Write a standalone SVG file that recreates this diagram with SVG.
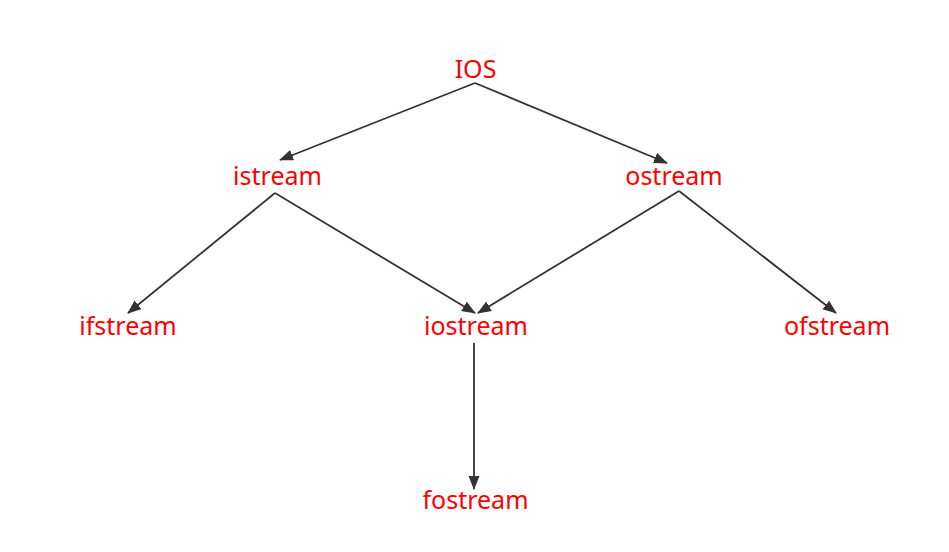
<svg xmlns="http://www.w3.org/2000/svg" width="949" height="552" viewBox="0 0 949 552">
<style>
text{font-family:"Noto Sans","Open Sans","Liberation Sans",sans-serif;font-size:25px;fill:#f00;text-anchor:middle}
.c{stroke:#333;stroke-width:1.8;fill:none;marker-end:url(#a)}
</style>
<defs>
<marker id="a" markerWidth="14" markerHeight="12" refX="13" refY="5.5" orient="auto" markerUnits="userSpaceOnUse">
<path d="M0,0 L14,5.5 L0,11 Z" fill="#333"/>
</marker>
</defs>
<rect width="949" height="552" fill="#fff"/>
<g id="connectors">
<path class="c" d="M475,83 L280,160"/>
<path class="c" d="M475,83 L667,163"/>
<path class="c" d="M275,193 L128,313"/>
<path class="c" d="M275,193 L475,313"/>
<path class="c" d="M679,191 L478,313"/>
<path class="c" d="M679,191 L836,313"/>
<path class="c" d="M474,343 L474,489"/>
</g>
<g id="ios"><text x="475.5" y="78">IOS</text></g>
<g id="istream"><text x="277.5" y="185">istream</text></g>
<g id="ostream"><text x="674" y="185">ostream</text></g>
<g id="ifstream"><text x="128" y="335">ifstream</text></g>
<g id="iostream"><text x="476" y="335">iostream</text></g>
<g id="ofstream"><text x="837" y="335">ofstream</text></g>
<g id="fostream"><text x="475.5" y="509">fostream</text></g>
</svg>
